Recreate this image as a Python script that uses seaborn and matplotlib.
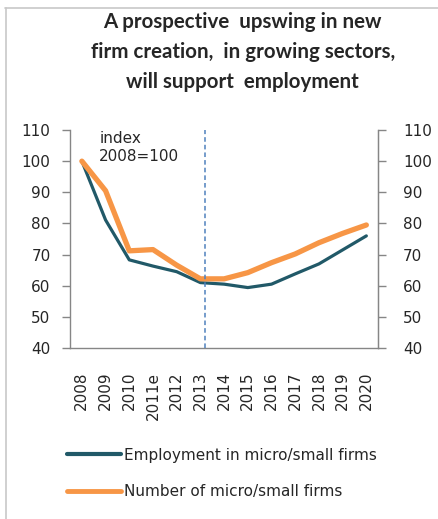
import matplotlib
matplotlib.use("Agg")
import matplotlib.pyplot as plt
import seaborn as sns
import pandas as pd
from matplotlib.lines import Line2D

years = ["2008", "2009", "2010", "2011e", "2012", "2013", "2014", "2015",
         "2016", "2017", "2018", "2019", "2020"]
employment = [100, 81.1, 68.3, 66.3, 64.5, 61.0, 60.5, 59.4, 60.5, 63.8, 67.0, 71.5, 76.0]
firms = [100, 90.5, 71.2, 71.6, 66.6, 62.2, 62.2, 64.2, 67.4, 70.2, 73.8, 76.8, 79.5]
series_names = ["Employment in micro/small firms", "Number of micro/small firms"]
yticks = [40, 50, 60, 70, 80, 90, 100, 110]

df = pd.DataFrame({
    "value": employment + firms,
    "series": [series_names[0]] * len(years) + [series_names[1]] * len(years),
})
df["x"] = list(range(len(years))) * 2

sns.set_style("white")
plt.rcParams["font.family"] = ["DejaVu Sans"]

fig = plt.figure(figsize=(4.39, 5.19), dpi=100)
ax = fig.add_axes([0.1595, 0.3295, 0.702, 0.42])

palette = {series_names[0]: "#215968", series_names[1]: "#F79646"}
sns.lineplot(data=df, x="x", y="value", hue="series", palette=palette,
             ax=ax, legend=False, estimator=None, sort=False)
lines = ax.get_lines()
lines[0].set_linewidth(2.3)
lines[1].set_linewidth(3.8)
lines[0].set_zorder(3)
lines[1].set_zorder(4)

ax.axvline(5.2, color="#4F81BD", linestyle=(0, (3, 2)), linewidth=1.1, zorder=5)

ax.set_xlim(-0.5, len(years) - 0.5)
ax.set_ylim(40, 110)
ax.set_yticks(yticks)
ax.set_xticks(range(len(years)))
ax.set_xticklabels(years, rotation=90, fontsize=11)
ax.set_xticks([i - 0.5 for i in range(len(years) + 1)], minor=True)
ax.tick_params(axis="x", which="major", length=0, pad=17)
ax.tick_params(axis="x", which="minor", length=5, direction="out", color="#868686", width=1)
ax.tick_params(axis="y", which="major", length=6, direction="out", color="#868686",
               left=True, labelleft=True, labelsize=11, pad=8, width=1)
ax.set_xlabel("")
ax.set_ylabel("")
for s in ["left", "right", "bottom"]:
    ax.spines[s].set_visible(True)
    ax.spines[s].set_color("#868686")
    ax.spines[s].set_linewidth(1)
ax.spines["top"].set_visible(False)

ax2 = ax.twinx()
ax2.set_ylim(40, 110)
ax2.set_yticks(yticks)
ax2.tick_params(axis="y", length=6, direction="out", color="#868686",
                labelsize=11, pad=12, width=1)
for s in ["left", "top", "bottom"]:
    ax2.spines[s].set_visible(False)
ax2.spines["right"].set_color("#868686")
ax2.grid(False)

ax.text(0.095, 0.995, "index\n2008=100", transform=ax.transAxes, fontsize=11,
        va="top", ha="left", linespacing=1.25)

fig.text(0.553, 0.9, "A prospective  upswing in new\nfirm creation,  in growing sectors,\nwill support  employment",
         ha="center", va="center", fontsize=14.8, fontweight="bold", linespacing=1.6,
         family=["Lato", "DejaVu Sans"])

handles = [Line2D([], [], color=palette[series_names[0]], linewidth=3),
           Line2D([], [], color=palette[series_names[1]], linewidth=3.5)]
fig.legend(handles, series_names, loc="upper left", bbox_to_anchor=(0.135, 0.152),
           frameon=False, fontsize=11, handlelength=3.55, handletextpad=0.2,
           labelspacing=1.4, borderpad=0)

fig.add_artist(Line2D([5 / 439, 1.0], [1 - 8 / 519, 1 - 8 / 519], transform=fig.transFigure,
                      color="#C8C8C8", linewidth=1.2))
fig.add_artist(Line2D([6 / 439, 6 / 439], [0, 1 - 8 / 519], transform=fig.transFigure,
                      color="#C8C8C8", linewidth=1.2))

fig.savefig("out.png", dpi=100)
